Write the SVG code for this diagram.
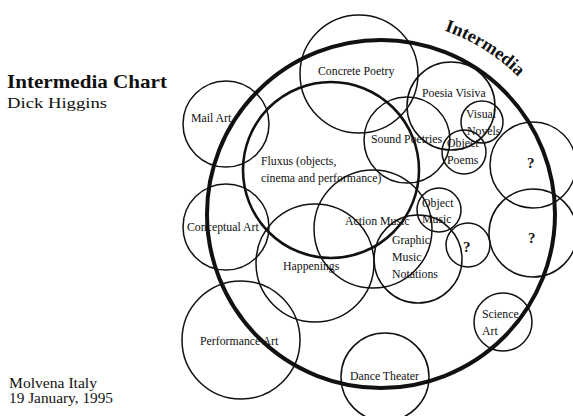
<svg xmlns="http://www.w3.org/2000/svg" width="573" height="416" viewBox="0 0 573 416">
<defs>
<style>
.c{fill:none;stroke:#111;stroke-width:1.5}
.t{font-family:"Liberation Serif","DejaVu Serif",serif;font-size:11.8px;fill:#111}
.q{font-family:"Liberation Serif","DejaVu Serif",serif;font-size:15px;font-weight:bold;fill:#111}
.h{font-family:"Liberation Serif","DejaVu Serif",serif;fill:#111}
</style>
<path id="arcI" d="M 444.2 30.6 A 194 194 0 0 1 549 117"/>
</defs>
<rect width="573" height="416" fill="#fff"/>
<g id="title">
<text class="h" x="7" y="88" font-size="19" font-weight="bold" textLength="160" lengthAdjust="spacingAndGlyphs">Intermedia Chart</text>
<text class="h" x="7" y="108" font-size="15.5" textLength="100" lengthAdjust="spacingAndGlyphs">Dick Higgins</text>
</g>
<g id="footer">
<text class="h" x="9" y="388" font-size="14" textLength="88" lengthAdjust="spacingAndGlyphs">Molvena Italy</text>
<text class="h" x="9" y="403" font-size="14" textLength="104" lengthAdjust="spacingAndGlyphs">19 January, 1995</text>
</g>
<g id="intermedia">
<circle cx="381" cy="214" r="174" fill="none" stroke="#111" stroke-width="4"/>
<text class="h" font-size="18" font-weight="bold"><textPath href="#arcI" textLength="88" lengthAdjust="spacingAndGlyphs">Intermedia</textPath></text>
</g>
<g id="fluxus">
<circle cx="331" cy="170" r="88" fill="none" stroke="#111" stroke-width="2.6"/>
<text class="t" x="261" y="165">Fluxus (objects,</text>
<text class="t" x="261" y="182">cinema and performance)</text>
</g>
<g id="concrete-poetry">
<circle class="c" cx="359" cy="74" r="59"/>
<text class="t" x="318" y="75">Concrete Poetry</text>
</g>
<g id="poesia-visiva">
<circle class="c" cx="451" cy="106" r="44"/>
<text class="t" x="422" y="97">Poesia Visiva</text>
</g>
<g id="visual-novels">
<circle class="c" cx="482" cy="122" r="21"/>
<text class="t" x="466" y="118">Visual</text>
<text class="t" x="467" y="135">Novels</text>
</g>
<g id="sound-poetries">
<circle class="c" cx="407" cy="140" r="43"/>
<text class="t" x="371" y="143">Sound Poetries</text>
</g>
<g id="object-poems">
<circle class="c" cx="464" cy="152" r="22"/>
<text class="t" x="447" y="147">Object</text>
<text class="t" x="447" y="164">Poems</text>
</g>
<g id="unknown-1">
<circle class="c" cx="533" cy="165" r="43"/>
<text class="q" x="527" y="168">?</text>
</g>
<g id="unknown-2">
<circle class="c" cx="533" cy="233" r="44"/>
<text class="q" x="528" y="243">?</text>
</g>
<g id="mail-art">
<circle class="c" cx="226" cy="124" r="43"/>
<text class="t" x="191" y="122">Mail Art</text>
</g>
<g id="conceptual-art">
<circle class="c" cx="226" cy="227" r="43"/>
<text class="t" x="187" y="231">Conceptual Art</text>
</g>
<g id="happenings">
<circle class="c" cx="315" cy="263" r="59"/>
<text class="t" x="283" y="270">Happenings</text>
</g>
<g id="action-music">
<circle class="c" cx="373" cy="229" r="59"/>
<text class="t" x="345" y="225">Action Music</text>
</g>
<g id="graphic-music-notations">
<circle class="c" cx="418" cy="259" r="44"/>
<text class="t" x="392" y="244">Graphic</text>
<text class="t" x="392" y="261">Music</text>
<text class="t" x="392" y="278">Notations</text>
</g>
<g id="object-music">
<circle class="c" cx="439" cy="210" r="22"/>
<text class="t" x="422" y="207">Object</text>
<text class="t" x="422" y="223">Music</text>
</g>
<g id="unknown-3">
<circle class="c" cx="468" cy="245" r="22"/>
<text class="q" x="463" y="252">?</text>
</g>
<g id="science-art">
<circle class="c" cx="503" cy="322" r="29"/>
<text class="t" x="482" y="318">Science</text>
<text class="t" x="482" y="335">Art</text>
</g>
<g id="performance-art">
<circle class="c" cx="241" cy="340" r="59"/>
<text class="t" x="200" y="345">Performance Art</text>
</g>
<g id="dance-theater">
<circle class="c" cx="385" cy="377" r="44"/>
<text class="t" x="350" y="380">Dance Theater</text>
</g>
</svg>
